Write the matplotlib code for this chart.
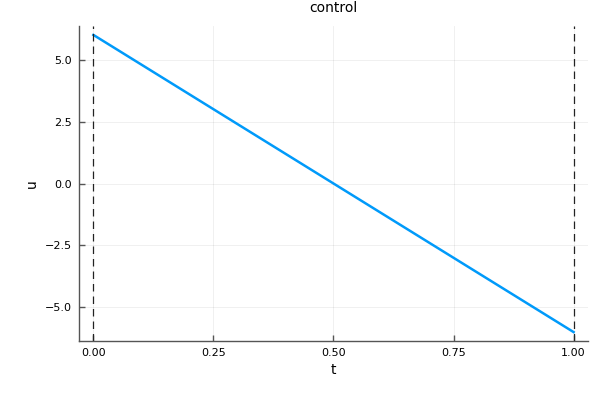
import matplotlib
matplotlib.use("Agg")
import matplotlib.pyplot as plt
import numpy as np

# control signal: linear from 6 to -6 over t in [0, 1]
t = [0.0, 1.0]
u = [6.0, -6.0]
bounds = [0.0, 1.0]
xticks = [0.0, 0.25, 0.5, 0.75, 1.0]
yticks = [-5.0, -2.5, 0.0, 2.5, 5.0]

fig = plt.figure(figsize=(6, 4), dpi=100)
ax = fig.add_axes([79 / 600, 1 - 341 / 400, (588 - 79) / 600, (341 - 26) / 400])

ax.plot(t, u, color="#009AFA", lw=1.8)
for b in bounds:
    ax.axvline(b, color="#222222", ls=(0, (6, 4)), lw=0.9)

ax.set_xlim(-0.03, 1.03)
ax.set_ylim(-6.36, 6.36)
ax.set_xticks(xticks)
ax.set_xticklabels([f"{v:.2f}" for v in xticks])
ax.set_yticks(yticks)
ax.set_yticklabels([f"{v:.1f}".replace("-", "\u2212") for v in yticks])
ax.grid(True, color="black", alpha=0.06, lw=0.7)
ax.tick_params(direction="in", length=4, width=1, color="#555555", labelsize=8, pad=5)
ax.spines[["top", "right"]].set_visible(False)
for s in ["left", "bottom"]:
    ax.spines[s].set_color("#555555")
    ax.spines[s].set_linewidth(1)

ax.set_title("control", fontsize=10, pad=10)
ax.set_xlabel("t", fontsize=10)
ax.set_ylabel("u", fontsize=10)

fig.savefig("out.png", dpi=100)
